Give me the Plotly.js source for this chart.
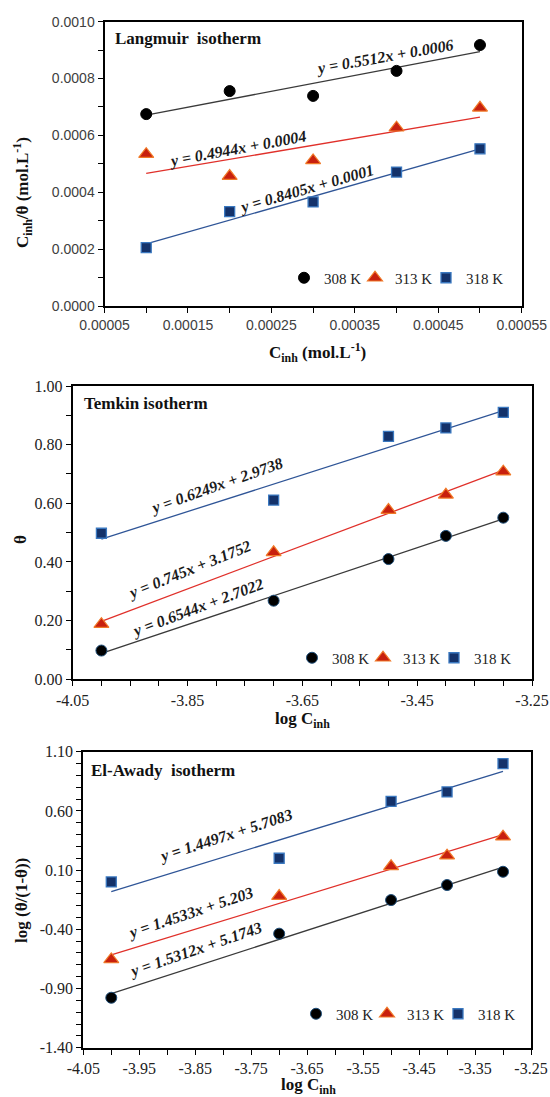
<!DOCTYPE html>
<html><head><meta charset="utf-8">
<script src="https://cdn.plot.ly/plotly-3.0.1.min.js"></script>
<style>html,body{margin:0;padding:0;background:#fff}#chart{width:550px;height:1097px}</style>
</head><body><div id="chart"></div>
<script>
// ---------- data ----------
const seriesNames = ['308 K', '313 K', '318 K'];

// Langmuir isotherm: Cinh vs Cinh/theta
const langX   = [0.0001, 0.0002, 0.0003, 0.0004, 0.0005];
const lang308 = [0.000675, 0.000756, 0.000739, 0.000827, 0.000918];
const lang313 = [0.000534, 0.000457, 0.000512, 0.000627, 0.000697];
const lang318 = [0.000205, 0.000332, 0.000366, 0.000471, 0.000553];
const langEq  = ['y = 0.5512x + 0.0006', 'y = 0.4944x + 0.0004', 'y = 0.8405x + 0.0001'];

// Temkin isotherm: log Cinh vs theta
const logC     = [-4.0, -3.7, -3.5, -3.4, -3.3];
const temk308  = [0.098, 0.268, 0.410, 0.489, 0.551];
const temk313  = [0.188, 0.433, 0.577, 0.629, 0.708];
const temk318  = [0.498, 0.611, 0.828, 0.857, 0.910];
const temkEq   = ['y = 0.6544x + 2.7022', 'y = 0.745x + 3.1752', 'y = 0.6249x + 2.9738'];

// El-Awady isotherm: log Cinh vs log(theta/(1-theta))
const awady308 = [-0.978, -0.437, -0.153, -0.026, 0.086];
const awady313 = [-0.655, -0.119, 0.132, 0.222, 0.382];
const awady318 = [0.000, 0.200, 0.681, 0.760, 0.999];
const awadyEq  = ['y = 1.5312x + 5.1743', 'y = 1.4533x + 5.203', 'y = 1.4497x + 5.7083'];

// tick labels
const temkXTicks  = [-4.05, -3.85, -3.65, -3.45, -3.25];
const temkXLabels = ['-4.05', '-3.85', '-3.65', '-3.45', '-3.25'];
const awadyXTicks  = [-4.05, -3.95, -3.85, -3.75, -3.65, -3.55, -3.45, -3.35, -3.25];
const awadyXLabels = ['-4.05', '-3.95', '-3.85', '-3.75', '-3.65', '-3.55', '-3.45', '-3.35', '-3.25'];
const awadyYTicks  = [-1.4, -0.9, -0.4, 0.1, 0.6, 1.1];
const awadyYLabels = ['-1.40', '-0.90', '-0.40', '0.10', '0.60', '1.10'];

// ---------- styles ----------
const SERIF = '"Liberation Serif", "Times New Roman", serif';
const SANS = '"Liberation Sans", Arial, sans-serif';
const lineColors = ['#3a3a3a', '#e0302a', '#2f5597'];
const legendWidths = [26, 26, 40];
function markerStyle(i, panel) {
  if (i === 0) return {symbol: 'circle', size: 11, color: '#000', line: {color: panel === 1 ? '#000' : '#1f4e79', width: 1}};
  if (i === 1) return {symbol: 'triangle-up', size: 13, color: '#c8200e', line: {color: '#f07a28', width: 1.2}};
  return {symbol: 'square', size: 10, color: '#14326a', line: {color: '#3a78c0', width: 1.3}};
}
function fit(xs, ys) {
  const n = xs.length;
  const mx = xs.reduce((a, b) => a + b, 0) / n;
  const my = ys.reduce((a, b) => a + b, 0) / n;
  let sxy = 0, sxx = 0;
  for (let i = 0; i < n; i++) { sxy += (xs[i] - mx) * (ys[i] - my); sxx += (xs[i] - mx) ** 2; }
  const b = sxy / sxx;
  return {b: b, a: my - b * mx};
}

const traces = [];
function addPanel(xs, ysList, panel) {
  const xa = panel === 1 ? 'x' : 'x' + panel;
  const ya = panel === 1 ? 'y' : 'y' + panel;
  const leg = panel === 1 ? 'legend' : 'legend' + panel;
  ysList.forEach((ys, i) => {
    const f = fit(xs, ys);
    const x0 = xs[0], x1 = xs[xs.length - 1];
    traces.push({x: [x0, x1], y: [f.a + f.b * x0, f.a + f.b * x1], mode: 'lines',
      line: {color: lineColors[i], width: 1.3}, xaxis: xa, yaxis: ya, showlegend: false, hoverinfo: 'skip'});
  });
  ysList.forEach((ys, i) => {
    traces.push({x: xs, y: ys, mode: 'markers', name: seriesNames[i], marker: markerStyle(i, panel),
      xaxis: xa, yaxis: ya, legend: leg, showlegend: true, legendwidth: legendWidths[i]});
  });
}
addPanel(langX, [lang308, lang313, lang318], 1);
addPanel(logC, [temk308, temk313, temk318], 2);
addPanel(logC, [awady308, awady313, awady318], 3);

const W = 550, H = 1097;
const px = v => v / W, py = v => 1 - v / H;

function axisBase(font) {
  return {showline: true, linecolor: '#000', linewidth: 2, mirror: true, showgrid: false, zeroline: false,
    ticks: 'outside', ticklen: 5, tickwidth: 1, tickcolor: '#000', tickfont: font, fixedrange: true};
}
const sansTick = {family: SANS, size: 14, color: '#404040'};
const serifTick = {family: SERIF, size: 16, color: '#222'};
const minorStyle = {ticks: 'outside', ticklen: 5, tickwidth: 1, tickcolor: '#000'};

const legendBase = {orientation: 'h', xanchor: 'right', yanchor: 'middle', bgcolor: 'rgba(0,0,0,0)',
  font: {family: SERIF, size: 15, color: '#222'}, entrywidthmode: 'pixels', itemwidth: 30};

const titleFont = {family: SERIF, size: 17, color: '#111', weight: 'bold'};
const eqFont = {family: SERIF, size: 16, color: '#1a1a1a', weight: 'bold', style: 'italic'};
function ann(text, x, y, extra) {
  return Object.assign({text: text, x: x, y: y, xref: 'paper', yref: 'paper', showarrow: false,
    font: titleFont, xanchor: 'center', yanchor: 'middle'}, extra || {});
}
function eq(text, x, y, angle, panel) {
  return {text: text, x: x, y: y, xref: panel === 1 ? 'x' : 'x' + panel,
    yref: panel === 1 ? 'y' : 'y' + panel, showarrow: false, textangle: angle, font: eqFont,
    xanchor: 'center', yanchor: 'middle'};
}

const layout = {
  width: W, height: H, margin: {l: 0, r: 0, t: 0, b: 0}, paper_bgcolor: '#fff', plot_bgcolor: '#fff',
  showlegend: true,
  font: {family: SERIF},
  xaxis: Object.assign(axisBase(sansTick), {domain: [px(104.5), px(521.7)], anchor: 'y', range: [0.00005, 0.00055],
    tickmode: 'linear', tick0: 0.00005, dtick: 0.0001, tickformat: '.5f',
    minor: Object.assign({tick0: 0.00005, dtick: 0.00005}, minorStyle)}),
  yaxis: Object.assign(axisBase(sansTick), {domain: [py(306), py(21.7)], anchor: 'x', range: [0, 0.001],
    tickmode: 'linear', tick0: 0, dtick: 0.0002, tickformat: '.4f',
    minor: Object.assign({tick0: 0, dtick: 0.0001}, minorStyle)}),
  xaxis2: Object.assign(axisBase(serifTick), {domain: [px(72.7), px(532)], anchor: 'y2', range: [-4.05, -3.25],
    tickmode: 'array', tickvals: temkXTicks, ticktext: temkXLabels,
    minor: Object.assign({tick0: -4.05, dtick: 0.05}, minorStyle)}),
  yaxis2: Object.assign(axisBase(serifTick), {domain: [py(679.3), py(386)], anchor: 'x2', range: [0, 1],
    tickmode: 'linear', tick0: 0, dtick: 0.2, tickformat: '.2f',
    minor: Object.assign({tick0: 0, dtick: 0.1}, minorStyle)}),
  xaxis3: Object.assign(axisBase(serifTick), {domain: [px(83.3), px(531)], anchor: 'y3', range: [-4.05, -3.25],
    tickmode: 'array', tickvals: awadyXTicks, ticktext: awadyXLabels,
    minor: Object.assign({tick0: -4.05, dtick: 0.05}, minorStyle)}),
  yaxis3: Object.assign(axisBase(serifTick), {domain: [py(1047.7), py(751.7)], anchor: 'x3', range: [-1.4, 1.1],
    tickmode: 'array', tickvals: awadyYTicks, ticktext: awadyYLabels,
    minor: Object.assign({tick0: -1.4, dtick: 0.1}, minorStyle)}),
  legend: Object.assign({}, legendBase, {x: px(511), y: py(278)}),
  legend2: Object.assign({}, legendBase, {x: px(519), y: py(658)}),
  legend3: Object.assign({}, legendBase, {x: px(523), y: py(1014)}),
  annotations: [
    // panel titles
    ann('Langmuir  isotherm', px(113), py(38.5), {xanchor: 'left'}),
    ann('Temkin isotherm', px(81.5), py(403.5), {xanchor: 'left'}),
    ann('El-Awady  isotherm', px(89), py(770), {xanchor: 'left'}),
    // axis titles
    ann('C<sub>inh</sub>/θ (mol.L<sup>-1</sup>)', px(23), py(193), {textangle: -90}),
    ann('C<sub>inh</sub> (mol.L<sup>-1</sup>)', px(317), py(352)),
    ann('θ', px(20), py(540), {textangle: -90}),
    ann('log C<sub>inh</sub>', px(302), py(720)),
    ann('log (θ/(1-θ))', px(21), py(901), {textangle: -90}),
    ann('log C<sub>inh</sub>', px(308), py(1086)),
    // trendline equations
    eq(langEq[0], 0.000386, 0.000877, -10, 1),
    eq(langEq[1], 0.000209, 0.000552, -10.5, 1),
    eq(langEq[2], 0.000292, 0.000412, -16, 1),
    eq(temkEq[0], -3.833, 0.243, -20.5, 2),
    eq(temkEq[1], -3.847, 0.371, -22, 2),
    eq(temkEq[2], -3.799, 0.659, -19.5, 2),
    eq(awadyEq[0], -3.850, -0.575, -19, 3),
    eq(awadyEq[1], -3.858, -0.265, -18.5, 3),
    eq(awadyEq[2], -3.796, 0.390, -18, 3)
  ]
};

Plotly.newPlot('chart', traces, layout, {staticPlot: true, displayModeBar: false});
</script>
</body></html>
